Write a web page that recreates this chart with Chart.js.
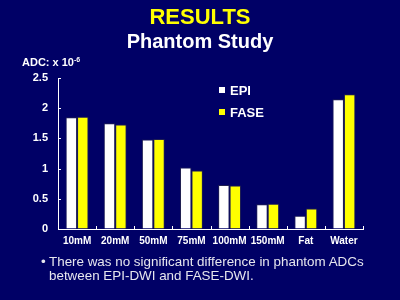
<!DOCTYPE html>
<html>
<head>
<meta charset="utf-8">
<script src="https://cdn.jsdelivr.net/npm/chart.js@4"></script>
<style>
  html, body { margin:0; padding:0; background:#000066; }
  body { width:400px; height:300px; position:relative; overflow:hidden; font-family:"Liberation Sans", Arial, sans-serif; }
  canvas { position:absolute; left:0; top:0; }
  .t { position:absolute; white-space:nowrap; }
  #title { left:0; width:400px; text-align:center; top:6.4px; font-size:22px; line-height:22px; font-weight:bold; color:#ffff00; }
  #subtitle { left:0; width:400px; text-align:center; top:31px; font-size:20px; line-height:20px; font-weight:bold; color:#ffffff; }
  #ylabel { left:22px; top:56.7px; font-size:11px; line-height:11px; font-weight:bold; color:#ffffff; }
  #ylabel sup { font-size:7px; vertical-align:4px; line-height:0; }
  #note { left:49px; top:255px; font-size:13.4px; line-height:14px; color:#e6e6ee; }
  #bullet { left:41px; top:255px; font-size:13.4px; line-height:14px; color:#e6e6ee; }
  .lg { position:absolute; font-size:13px; line-height:13px; font-weight:bold; color:#ffffff; white-space:nowrap; }
  .lg i { position:absolute; width:6px; height:6px; left:-11px; top:3px; }
</style>
</head>
<body>
<canvas id="c" width="400" height="300"></canvas>
<div class="t" id="title">RESULTS</div>
<div class="t" id="subtitle">Phantom Study</div>
<div class="t" id="ylabel">ADC: x 10<sup>-6</sup></div>
<div class="t" id="bullet">•</div>
<div class="t" id="note">There was no significant difference in phantom ADCs<br>between EPI-DWI and FASE-DWI.</div>
<div id="legend"></div>
<script>
const categories = ["10mM", "20mM", "50mM", "75mM", "100mM", "150mM", "Fat", "Water"];
const epiValues  = [1.85, 1.75, 1.48, 1.02, 0.73, 0.41, 0.22, 2.15];
const faseValues = [1.86, 1.73, 1.49, 0.97, 0.72, 0.42, 0.34, 2.23];
const seriesNames = ["EPI", "FASE"];
const yTicks = [0, 0.5, 1, 1.5, 2, 2.5];

const colors = ["#ffffff", "#ffff00"];

// HTML legend from series names
const legendPos = [{left:230, top:83.5}, {left:230, top:105.5}];
const lg = document.getElementById('legend');
seriesNames.forEach((n, i) => {
  const d = document.createElement('div');
  d.className = 'lg';
  d.style.left = legendPos[i].left + 'px';
  d.style.top = legendPos[i].top + 'px';
  const sw = document.createElement('i');
  sw.style.background = colors[i];
  d.appendChild(sw);
  d.appendChild(document.createTextNode(n));
  lg.appendChild(d);
});

const inwardTicks = {
  id: 'inwardTicks',
  afterDatasetsDraw(chart) {
    const ctx = chart.ctx;
    const xs = chart.scales.x, ys = chart.scales.y;
    const bottom = chart.chartArea.bottom, left = chart.chartArea.left;
    ctx.save();
    ctx.strokeStyle = '#ffffff';
    ctx.lineWidth = 1;
    ctx.beginPath();
    for (let i = 1; i <= categories.length; i++) {
      let px;
      if (i < categories.length) px = (xs.getPixelForValue(i - 1) + xs.getPixelForValue(i)) / 2;
      else px = chart.chartArea.right;
      px = Math.round(px) + 0.5;
      ctx.moveTo(px, bottom);
      ctx.lineTo(px, bottom - 3);
    }
    yTicks.forEach(v => {
      const py = Math.round(ys.getPixelForValue(v)) + 0.5;
      ctx.moveTo(left, py);
      ctx.lineTo(left + 3, py);
    });
    ctx.stroke();
    ctx.restore();
  }
};

new Chart(document.getElementById('c'), {
  type: 'bar',
  data: {
    labels: categories,
    datasets: [
      { label: seriesNames[0], data: epiValues, backgroundColor: colors[0], borderColor: '#202050', borderWidth: 1 },
      { label: seriesNames[1], data: faseValues, backgroundColor: colors[1], borderColor: '#202050', borderWidth: 1 }
    ]
  },
  options: {
    responsive: false,
    animation: false,
    devicePixelRatio: 1,
    layout: { padding: { top: 78, right: 37, left: 0, bottom: 0 } },
    plugins: { legend: { display: false }, tooltip: { enabled: false }, title: { display: false } },
    datasets: { bar: { categoryPercentage: 0.6, barPercentage: 1.0 } },
    scales: {
      x: {
        grid: { display: true, drawOnChartArea: false, drawTicks: false, color: 'rgba(0,0,0,0)' },
        border: { display: true, color: '#ffffff', width: 1 },
        ticks: { color: '#ffffff', padding: 6, font: { family: 'Liberation Sans', size: 10, weight: 'bold' }, maxRotation: 0, autoSkip: false },
        afterFit(s) { s.height = 71; }
      },
      y: {
        min: 0, max: 2.5,
        grid: { display: true, drawOnChartArea: false, drawTicks: false, color: 'rgba(0,0,0,0)' },
        border: { display: true, color: '#ffffff', width: 1 },
        afterBuildTicks(s) { s.ticks = yTicks.map(v => ({ value: v })); },
        ticks: { color: '#ffffff', padding: 10, font: { family: 'Liberation Sans', size: 11, weight: 'bold' },
                 callback: v => String(v) },
        afterFit(s) { s.width = 58; }
      }
    }
  },
  plugins: [inwardTicks]
});
</script>
</body>
</html>
